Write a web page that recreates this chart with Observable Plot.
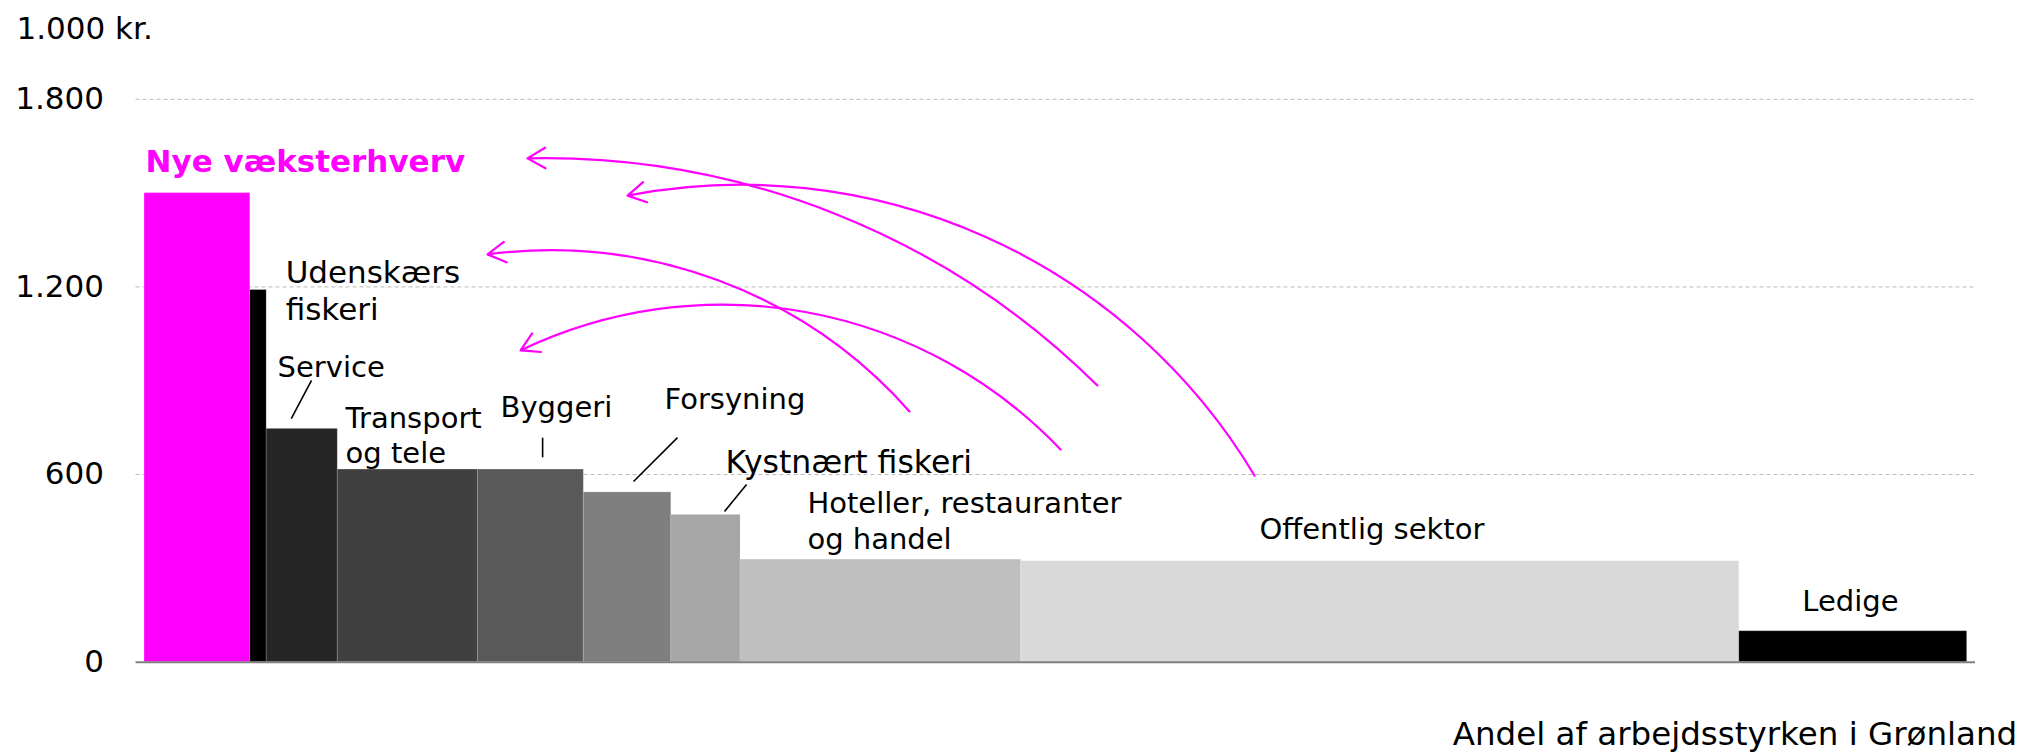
<!DOCTYPE html>
<html><head><meta charset="utf-8">
<script src="https://cdn.jsdelivr.net/npm/d3@7"></script>
<script src="https://cdn.jsdelivr.net/npm/@observablehq/plot@0.6"></script>
<style>body{margin:0;background:#fff}</style>
</head><body><div id="chart"></div>
<script>
// ---- data ----
const categories = ["Nye væksterhverv", "Udenskærs fiskeri", "Service", "Transport og tele", "Byggeri", "Forsyning", "Kystnært fiskeri", "Hoteller, restauranter og handel", "Offentlig sektor", "Ledige"];
const shares = [5.8, 0.9, 3.9, 7.7, 5.8, 4.8, 3.8, 15.4, 39.4, 12.5];   // andel af arbejdsstyrken, %
const values = [1500, 1190, 746, 616, 616, 543, 471, 328, 323, 99];      // 1.000 kr.
const palette = ["#ff00ff", "#000000", "#262626", "#404040", "#595959", "#7f7f7f", "#a6a6a6", "#bfbfbf", "#d9d9d9", "#000000"];
const yTicks = [0, 600, 1200, 1800];
const yTickLabels = ["0", "600", "1.200", "1.800"];
const yUnit = "1.000 kr.";
const xTitle = "Andel af arbejdsstyrken i Grønland";

// annotation labels (anchored in data units: share %, 1.000 kr.)
const labelTexts = ["Nye væksterhverv", "Udenskærs\nfiskeri", "Service", "Transport\nog tele", "Byggeri", "Forsyning", "Kystnært fiskeri", "Hoteller, restauranter\nog handel", "Offentlig sektor", "Ledige"];
const labelX = [0.05, 7.74, 7.30, 11.03, 19.53, 28.53, 31.88, 36.37, 61.17, 93.6];
const labelY = [1598, 1192, 949, 730, 821, 847, 645, 456, 431, 192];
const labelSize = [31, 31, 29, 29, 29, 29, 31.5, 29, 29, 29];

// leader lines
const leadX1 = [9.16, 21.84, 29.24, 33.03];
const leadY1 = [901, 718, 718, 568];
const leadX2 = [8.05, 21.84, 26.83, 31.82];
const leadY2 = [779, 655, 578, 482];

// magenta arrows (from existing sectors to new growth industries)
const arrX1 = [52.28, 60.9, 41.97, 50.26];
const arrY1 = [885, 597, 802, 680];
const arrX2 = [21.01, 26.5, 18.82, 20.63];
const arrY2 = [1611, 1492, 1304, 997];
const arrBend = [-23, -35, -28, -36];

// ---- build tables ----
const edges = [0, ...d3.cumsum(shares)];
const bars = categories.map((c, i) => ({cat: c, x1: edges[i], x2: edges[i + 1], y: values[i]}));
const labels = labelTexts.map((t, i) => ({t, x: labelX[i], y: labelY[i], s: labelSize[i], i}));
const leads = leadX1.map((_, i) => ({x1: leadX1[i], y1: leadY1[i], x2: leadX2[i], y2: leadY2[i]}));
const arrows = arrX1.map((_, i) => ({x1: arrX1[i], y1: arrY1[i], x2: arrX2[i], y2: arrY2[i], b: arrBend[i]}));

const font = "DejaVu Sans, Verdana, sans-serif";

const chart = Plot.plot({
  width: 2024,
  height: 753,
  marginLeft: 135.5,
  marginRight: 49,
  marginTop: 98.8,
  marginBottom: 91.3,
  style: {fontFamily: font, background: "#fff", overflow: "visible"},
  x: {domain: [-0.47, 100.46], axis: null},
  y: {domain: [0, 1800], axis: null},
  color: {domain: categories, range: palette},
  marks: [
    Plot.gridY(yTicks.filter(d => d > 0), {stroke: "#b8b8b8", strokeOpacity: 1, strokeDasharray: "4,3", strokeWidth: 1}),
    Plot.rectY(bars, {x1: "x1", x2: "x2", y: "y", fill: "cat", stroke: "#fff", strokeOpacity: 0.15, strokeWidth: 1}),
    Plot.ruleY([0], {stroke: "#808080", strokeWidth: 2}),
    Plot.axisY({ticks: yTicks, tickFormat: d => yTickLabels[yTicks.indexOf(d)], tickSize: 0, tickPadding: 32, fontSize: 31, label: null}),
    Plot.link(leads, {x1: "x1", y1: "y1", x2: "x2", y2: "y2", stroke: "#000", strokeWidth: 1.6}),
    ...arrows.map(a => Plot.arrow([a], {x1: "x1", y1: "y1", x2: "x2", y2: "y2", bend: a.b, stroke: "#ff00ff", strokeWidth: 2.2, headLength: 14, headAngle: 60})),
    Plot.text(labels.filter(d => d.i === 0), {x: "x", y: "y", text: "t", textAnchor: "start", fontSize: 31, fontWeight: "bold", fill: "#ff00ff"}),
    Plot.text(labels.filter(d => d.i > 0 && d.i < 9), {x: "x", y: "y", text: "t", textAnchor: "start", fontSize: "s", lineHeight: 1.22, fill: "#000"}),
    Plot.text(labels.filter(d => d.i === 9), {x: "x", y: "y", text: "t", textAnchor: "middle", fontSize: 29, fill: "#000"}),
    Plot.text([yUnit], {frameAnchor: "top-left", text: d => d, textAnchor: "start", lineAnchor: "middle", dx: -119.5, dy: -70, fontSize: 31, fill: "#000"}),
    Plot.text([xTitle], {frameAnchor: "bottom-right", text: d => d, textAnchor: "end", lineAnchor: "middle", dx: 41.7, dy: 72, fontSize: 32.5, fill: "#000"})
  ]
});
document.getElementById("chart").appendChild(chart);
</script>
</body></html>
